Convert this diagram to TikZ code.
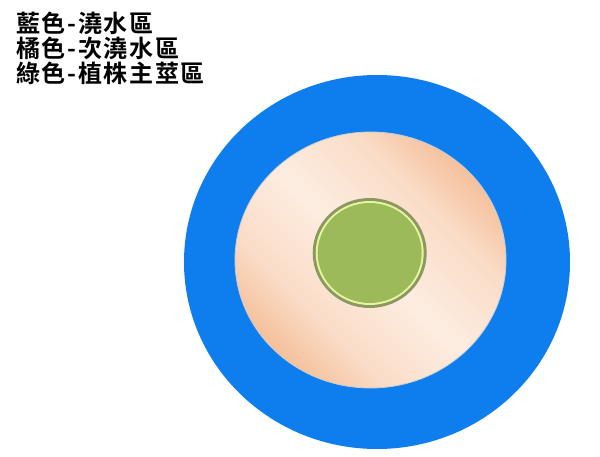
\documentclass[tikz,border=0pt]{standalone}
\usepackage{fontspec}
\newfontfamily\cjk[LetterSpace=7]{Noto Sans CJK TC Bold}
\definecolor{bluering}{RGB}{14,126,238}
\definecolor{peachdark}{RGB}{245,192,156}
\definecolor{peachmid}{RGB}{250,220,199}
\definecolor{peachlight}{RGB}{253,237,225}
\definecolor{greenfill}{RGB}{156,186,90}
\definecolor{greenedge}{RGB}{140,152,96}
\definecolor{greenring}{RGB}{232,245,160}
\pgfdeclarehorizontalshading{peachshade}{100bp}{color(0bp)=(peachdark); color(25bp)=(peachdark); color(35bp)=(peachmid); color(50bp)=(peachlight); color(65bp)=(peachmid); color(75bp)=(peachdark); color(100bp)=(peachdark)}
\tikzset{
  legend/.style={anchor=west, inner sep=0pt, font=\cjk\fontsize{24}{24}\selectfont, text=black},
}
\begin{document}
\begin{tikzpicture}[x=1pt,y=-1pt]
\useasboundingbox (0,0) rectangle (600,457);
\fill[white] (0,0) rectangle (600,457);
% outer blue zone
\fill[bluering] (377,262) ellipse [x radius=193, y radius=187];
% orange zone
\shade[shading=peachshade, shading angle=45] (370.5,260) ellipse [x radius=135.5, y radius=128];
\draw[gray!40, line width=0.8pt] (370.5,260) ellipse [x radius=135.5, y radius=128];
% green zone
\fill[greenedge] (369.7,253) ellipse [x radius=57, y radius=55];
\fill[greenring] (369.7,253) ellipse [x radius=54, y radius=52];
\fill[greenfill] (369.7,253) ellipse [x radius=52, y radius=50];
% legend
\node[legend] (l1) at (16,23) {藍色-澆水區};
\node[legend] (l2) at (16,48) {橘色-次澆水區};
\node[legend] (l3) at (16,73) {綠色-植株主莖區};
\end{tikzpicture}
\end{document}
